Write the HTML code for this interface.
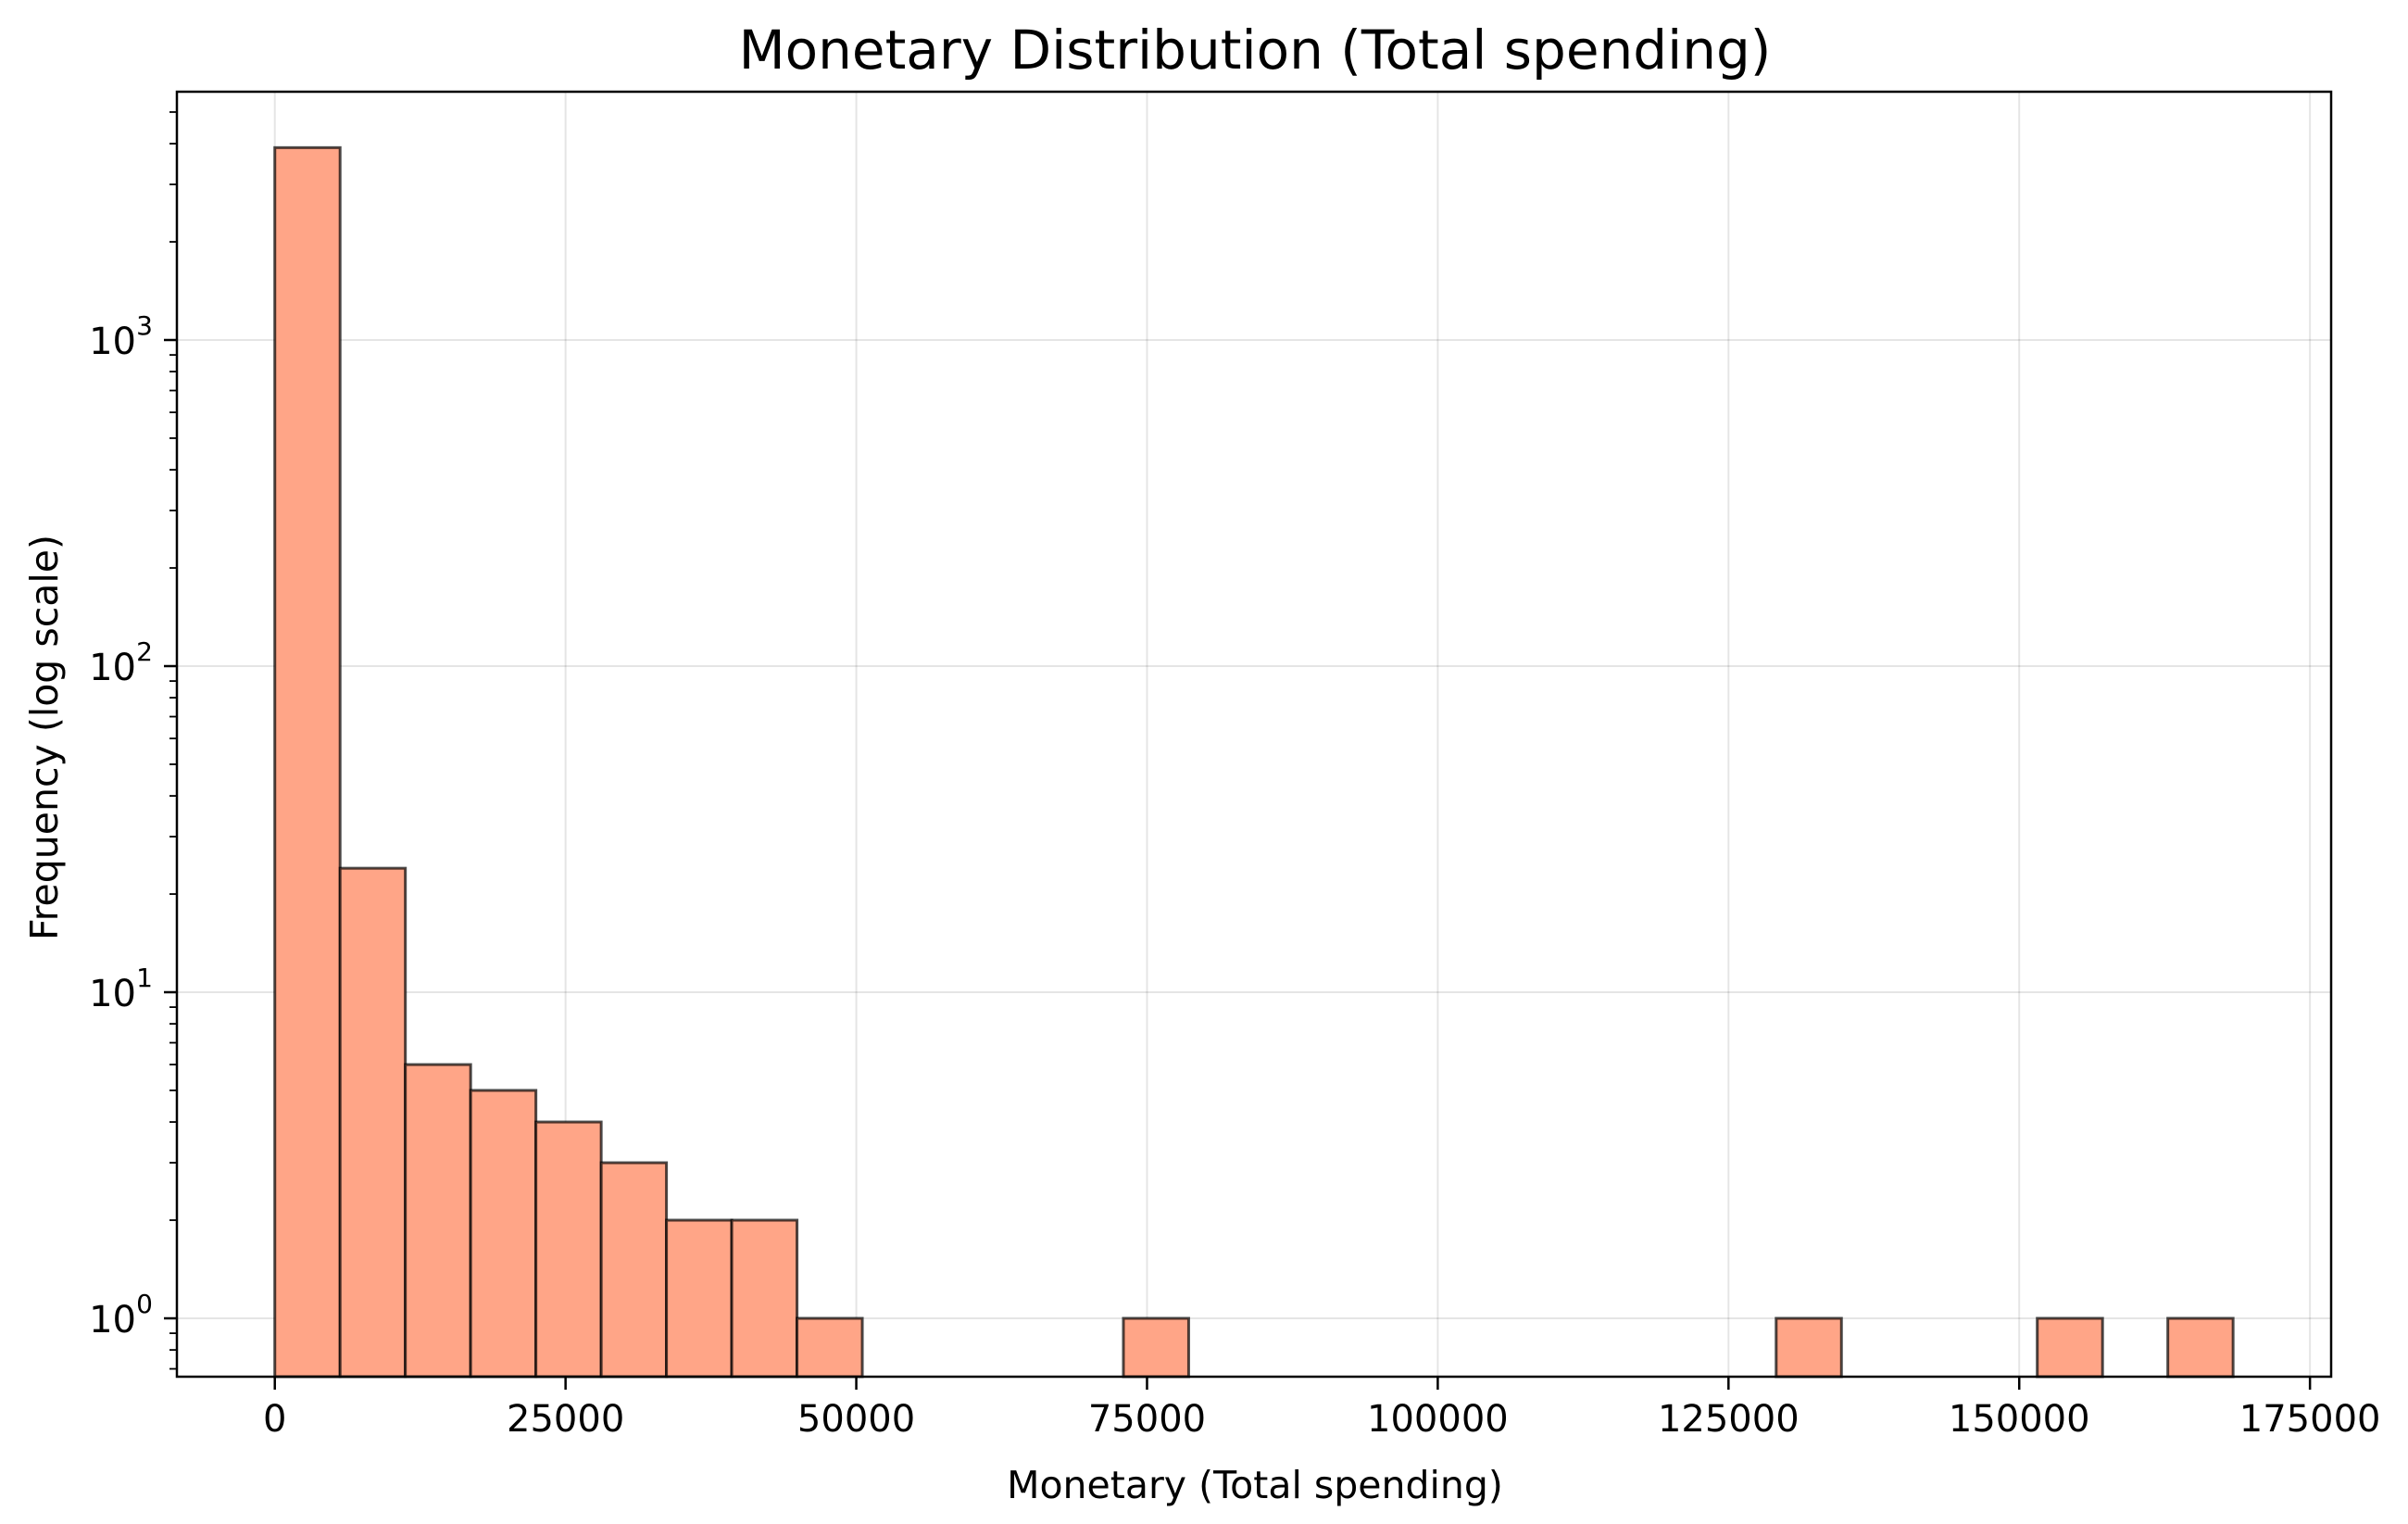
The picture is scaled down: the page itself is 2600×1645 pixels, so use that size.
<!DOCTYPE html>
<html><head><meta charset="utf-8"><style>
html,body{margin:0;padding:0;background:#fff;}
svg{display:block;font-family:"DejaVu Sans","Liberation Sans",sans-serif;}
</style></head><body>
<svg id="chart" width="2600" height="1645" viewBox="0 0 2600 1645" xmlns="http://www.w3.org/2000/svg">
<rect x="0" y="0" width="2600" height="1645" fill="#fff"/>
<g id="grid"></g>
<g id="bars"></g>
<g id="axes"></g>
<text x="1355" y="74" font-size="58" text-anchor="middle">Monetary Distribution (Total spending)</text>
<text x="1355" y="1617" font-size="41" text-anchor="middle">Monetary (Total spending)</text>
<text x="0" y="0" font-size="41" text-anchor="middle" transform="translate(62,796) rotate(-90)">Frequency (log scale)</text>
</svg>
<script>
const binStart = 0;
const binWidth = 5613;
const counts = [3890,24,6,5,4,3,2,2,1,0,0,0,0,1,0,0,0,0,0,0,0,0,0,1,0,0,0,1,0,1];
const xTicks = [0,25000,50000,75000,100000,125000,150000,175000];
const yDecades = [0,1,2,3];

const NS="http://www.w3.org/2000/svg";
const L=191,R=2517,T=99,B=1486;
const xMin=-8420,xMax=176820;
const y0px=1423,decade=352;
function X(v){return L+(v-xMin)/(xMax-xMin)*(R-L);}
function Y(v){return y0px-Math.log10(v)*decade;}
function mk(tag,attrs,parent){const e=document.createElementNS(NS,tag);for(const k in attrs)e.setAttribute(k,attrs[k]);parent.appendChild(e);return e;}
const grid=document.getElementById('grid'),bars=document.getElementById('bars'),axes=document.getElementById('axes');

xTicks.forEach(t=>{
  const g=mk('line',{x1:X(t),x2:X(t),y1:T,y2:B,stroke:'#000','stroke-opacity':0.1,'stroke-width':2},grid);
  
  
  const tk=mk('line',{x1:X(t),x2:X(t),y1:B,y2:B+14,stroke:'#000','stroke-width':2.5},axes);
  
  
  const lb=mk('text',{x:X(t),y:B+59,'font-size':40,'text-anchor':'middle'},axes);
  lb.textContent=String(t);
  
  
});
yDecades.forEach(d=>{
  const y=Y(Math.pow(10,d));
  const g=mk('line',{x1:L,x2:R,y1:y,y2:y,stroke:'#000','stroke-opacity':0.1,'stroke-width':2},grid);
  
  
  const tk=mk('line',{x1:L-14,x2:L,y1:y,y2:y,stroke:'#000','stroke-width':2.5},axes);
  
  
  const lb=mk('text',{x:L-44,y:y+15,'font-size':40,'text-anchor':'end'},axes);
  lb.textContent='10';
  
  
  const sp=mk('text',{x:L-26,y:y-6,'font-size':28,'text-anchor':'end'},axes);
  sp.textContent=String(d);
  
  
});
for(let d=-1;d<=3;d++){
  for(let m=2;m<=9;m++){
    const v=m*Math.pow(10,d);const y=Y(v);
    if(y<T||y>B)continue;
    const tk=mk('line',{x1:L-8,x2:L,y1:y,y2:y,stroke:'#000','stroke-width':1.8},axes);
    
    
  }
}
counts.forEach((c,i)=>{
  if(c<=0)return;
  const x1=X(binStart+i*binWidth),x2=X(binStart+(i+1)*binWidth);
  const r=mk('rect',{x:x1,y:Y(c),width:x2-x1,height:B-Y(c),fill:'#FFA587',stroke:'#000','stroke-opacity':0.7,'stroke-width':3},bars);
  
  
});
const fr=mk('rect',{x:L,y:T,width:R-L,height:B-T,fill:'none',stroke:'#000','stroke-width':2.5},axes);


</script>
</body></html>
